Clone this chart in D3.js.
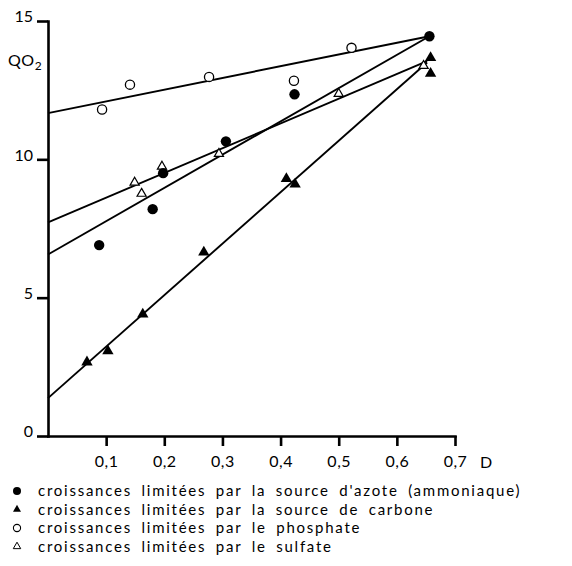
<!DOCTYPE html>
<html>
<head>
<meta charset="utf-8">
<script src="https://cdn.jsdelivr.net/npm/d3@7"></script>
<style>
  html, body { margin: 0; padding: 0; background: #fff; }
  svg { display: block; }
  text { font-family: Lato, "DejaVu Sans", sans-serif; fill: #000; }
</style>
</head>
<body>
<svg id="chart" width="572" height="566"></svg>
<script>
// ---- data ----
const azoteD = [0.088, 0.18, 0.198, 0.306, 0.424, 0.656];
const azoteQ = [6.9, 8.2, 9.5, 10.65, 12.35, 14.45];

const carboneD = [0.067, 0.103, 0.163, 0.268, 0.41, 0.425, 0.658, 0.658];
const carboneQ = [2.67, 3.07, 4.4, 6.64, 9.3, 9.1, 13.67, 13.1];

const phosphateD = [0.093, 0.141, 0.277, 0.423, 0.522];
const phosphateQ = [11.8, 12.7, 12.98, 12.84, 14.03];

const sulfateD = [0.149, 0.161, 0.196, 0.294, 0.5, 0.646];
const sulfateQ = [9.16, 8.76, 9.74, 10.2, 12.37, 13.38];

// fitted straight lines (end points)
const lineAzoteD = [0, 0.656],     lineAzoteQ = [6.56, 14.45];
const lineCarboneD = [0, 0.652],   lineCarboneQ = [1.37, 13.5];
const linePhosphateD = [0, 0.656], linePhosphateQ = [11.67, 14.45];
const lineSulfateD = [0, 0.652],   lineSulfateQ = [7.72, 13.55];

const xTicks = [0.1, 0.2, 0.3, 0.4, 0.5, 0.6, 0.7];
const xTickLabels = ["0,1", "0,2", "0,3", "0,4", "0,5", "0,6", "0,7"];
const yTicks = [0, 5, 10, 15];
const yTickLabels = ["0", "5", "10", "15"];

const legendLabels = [
  "croissances limitées par la source d'azote (ammoniaque)",
  "croissances limitées par la source de carbone",
  "croissances limitées par le phosphate",
  "croissances limitées par le sulfate"
];

// ---- drawing ----
const svg = d3.select("#chart");
const x = d3.scaleLinear().domain([0, 0.7]).range([48, 455]);
const y = d3.scaleLinear().domain([0, 15]).range([436, 21]);

// axes
const yAxis = d3.axisLeft(y).tickValues(yTicks).tickSize(11).tickSizeOuter(0)
  .tickFormat((d, i) => yTickLabels[i]);
const gy = svg.append("g").attr("transform", `translate(${x(0)},0)`).call(yAxis);
gy.select(".domain").attr("stroke", "#000").attr("stroke-width", 2.6);
gy.selectAll(".tick line").attr("stroke", "#000").attr("stroke-width", 2.6);
gy.selectAll(".tick text").attr("font-size", 16).attr("x", -15).attr("dy", "0.05em");

const xAxis = d3.axisBottom(x).tickValues(xTicks).tickSize(10).tickSizeOuter(0)
  .tickFormat((d, i) => xTickLabels[i]);
const gx = svg.append("g").attr("transform", `translate(0,${y(0)})`).call(xAxis);
gx.select(".domain").attr("stroke", "#000").attr("stroke-width", 2.6);
gx.selectAll(".tick line").attr("stroke", "#000").attr("stroke-width", 2.6);
gx.selectAll(".tick text").attr("font-size", 16).attr("y", 19).attr("dy", "0.72em").attr("letter-spacing", 0.5);
svg.selectAll(".domain").attr("stroke-linecap", "square");

// axis titles
const qt = svg.append("text").attr("x", 8).attr("y", 66).attr("font-size", 16).attr("letter-spacing", 0.5);
qt.append("tspan").text("QO");
qt.append("tspan").attr("font-size", 12).attr("dy", 4).text("2");
svg.append("text").attr("x", 480).attr("y", 468).attr("font-size", 16).text("D");

// fitted lines
const line = d3.line().x(d => x(d[0])).y(d => y(d[1]));
[[lineAzoteD, lineAzoteQ], [lineCarboneD, lineCarboneQ],
 [linePhosphateD, linePhosphateQ], [lineSulfateD, lineSulfateQ]].forEach(([ds, qs]) => {
  svg.append("path").datum(d3.zip(ds, qs)).attr("d", line)
    .attr("fill", "none").attr("stroke", "#000").attr("stroke-width", 1.9);
});

// points
const triFilled = d3.symbol().type(d3.symbolTriangle).size(56)();
const triOpen = d3.symbol().type(d3.symbolTriangle).size(36)();

function pts(ds, qs) { return d3.zip(ds, qs); }

svg.append("g").selectAll("circle").data(pts(phosphateD, phosphateQ)).join("circle")
  .attr("cx", d => x(d[0])).attr("cy", d => y(d[1])).attr("r", 4.6)
  .attr("fill", "#fff").attr("stroke", "#000").attr("stroke-width", 1.3);

svg.append("g").selectAll("path").data(pts(sulfateD, sulfateQ)).join("path")
  .attr("d", triOpen).attr("transform", d => `translate(${x(d[0])},${y(d[1])})`)
  .attr("fill", "#fff").attr("stroke", "#000").attr("stroke-width", 1.2);

svg.append("g").selectAll("circle").data(pts(azoteD, azoteQ)).join("circle")
  .attr("cx", d => x(d[0])).attr("cy", d => y(d[1])).attr("r", 5.2)
  .attr("fill", "#000");

svg.append("g").selectAll("path").data(pts(carboneD, carboneQ)).join("path")
  .attr("d", triFilled).attr("transform", d => `translate(${x(d[0])},${y(d[1])})`)
  .attr("fill", "#000");

// legend
const legY0 = 491, legStep = 18.5, legSymX = 17, legTextX = 38;
const leg = svg.append("g");
legendLabels.forEach((lab, i) => {
  const cy = legY0 + i * legStep;
  if (i === 0) leg.append("circle").attr("cx", legSymX).attr("cy", cy).attr("r", 4).attr("fill", "#000");
  if (i === 1) leg.append("path").attr("d", d3.symbol().type(d3.symbolTriangle).size(28)())
    .attr("transform", `translate(${legSymX},${cy})`).attr("fill", "#000");
  if (i === 2) leg.append("circle").attr("cx", legSymX).attr("cy", cy).attr("r", 3.6)
    .attr("fill", "#fff").attr("stroke", "#000").attr("stroke-width", 1.1);
  if (i === 3) leg.append("path").attr("d", d3.symbol().type(d3.symbolTriangle).size(24)())
    .attr("transform", `translate(${legSymX},${cy})`).attr("fill", "#fff")
    .attr("stroke", "#000").attr("stroke-width", 1);
  leg.append("text").attr("x", legTextX).attr("y", cy).attr("dy", "0.35em")
    .attr("font-size", 15).attr("letter-spacing", 1.75).attr("word-spacing", 4).text(lab);
});
</script>
</body>
</html>
